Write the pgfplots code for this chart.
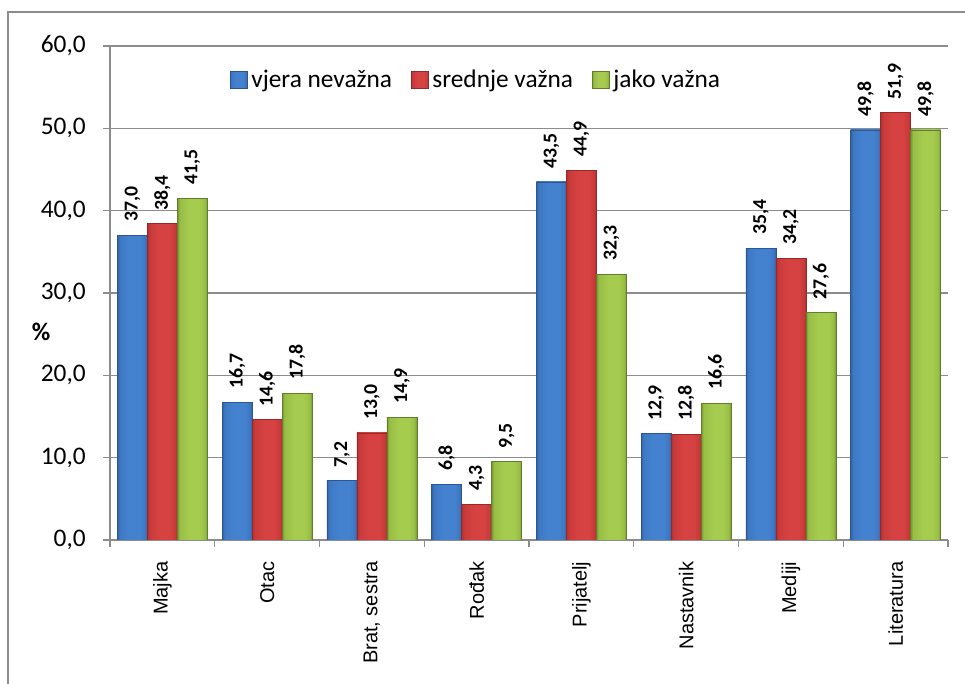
\documentclass[border=0pt]{standalone}
\usepackage{pgfplots}
\pgfplotsset{compat=1.18}
\usepackage{fontspec}
\setmainfont{Carlito}
\newfontfamily\arialfont{Liberation Sans}

\definecolor{bE}{RGB}{52,98,165}
\definecolor{bM}{RGB}{68,130,208}
\definecolor{bN}{RGB}{62,120,195}
\definecolor{bD}{RGB}{45,85,145}
\definecolor{rE}{RGB}{175,48,48}
\definecolor{rM}{RGB}{214,66,66}
\definecolor{rN}{RGB}{200,58,58}
\definecolor{rD}{RGB}{150,40,40}
\definecolor{gE}{RGB}{118,150,52}
\definecolor{gM}{RGB}{165,204,78}
\definecolor{gN}{RGB}{152,190,70}
\definecolor{gD}{RGB}{100,125,42}
\definecolor{gridc}{RGB}{140,140,140}

\pgfdeclarehorizontalshading{blueshade}{100bp}{color(0bp)=(bE); color(25bp)=(bE); color(29bp)=(bN); color(45bp)=(bM); color(62bp)=(bM); color(71bp)=(bN); color(75bp)=(bE); color(100bp)=(bE)}
\pgfdeclarehorizontalshading{redshade}{100bp}{color(0bp)=(rE); color(25bp)=(rE); color(29bp)=(rN); color(45bp)=(rM); color(62bp)=(rM); color(71bp)=(rN); color(75bp)=(rE); color(100bp)=(rE)}
\pgfdeclarehorizontalshading{greenshade}{100bp}{color(0bp)=(gE); color(25bp)=(gE); color(29bp)=(gN); color(45bp)=(gM); color(62bp)=(gM); color(71bp)=(gN); color(75bp)=(gE); color(100bp)=(gE)}

\pgfplotstableread{
x a b c
0 37.0 38.4 41.5
1 16.7 14.6 17.8
2 7.2 13.0 14.9
3 6.8 4.3 9.5
4 43.5 44.9 32.3
5 12.9 12.8 16.6
6 35.4 34.2 27.6
7 49.8 51.9 49.8
}\datatable

\tikzset{vlabel/.style={font=\bfseries\fontsize{14.8}{17}\selectfont, rotate=90, anchor=west, inner xsep=10pt, inner ysep=0pt, black}}
\pgfplotsset{
  barA/.style={ybar, bar width=22.5pt, bar shift=-22.5pt, draw=bD, line width=0.5pt, shading=blueshade,
    every node near coord/.style={xshift=-22.5pt, vlabel}},
  barB/.style={ybar, bar width=22.5pt, bar shift=0pt, draw=rD, line width=0.5pt, shading=redshade,
    every node near coord/.style={vlabel}},
  barC/.style={ybar, bar width=22.5pt, bar shift=22.5pt, draw=gD, line width=0.5pt, shading=greenshade,
    every node near coord/.style={xshift=22.5pt, vlabel}},
}

\begin{document}
\begin{tikzpicture}
\useasboundingbox (0,0) rectangle (723.75pt,513pt);
\draw[gridc, line width=1pt] (6pt,0pt) -- (6pt,504pt) -- (723.75pt,504pt);
\node[font=\bfseries\fontsize{19}{22}\selectfont] at (30.75pt,264pt) {\%};
\begin{axis}[
  at={(82.5pt,108pt)}, anchor=south west,
  scale only axis, width=628.5pt, height=370.5pt,
  xmin=-0.5, xmax=7.5, ymin=0, ymax=60,
  ytick={0,10,...,60},
  xtick={0,...,7},
  xticklabels={Majka,Otac,{Brat, sestra},Rođak,Prijatelj,Nastavnik,Mediji,Literatura},
  minor xtick={-0.5,0.5,...,7.5},
  major x tick style={draw=none},
  tick align=outside,
  major tick length=5pt, minor tick length=5pt,
  tick style={gridc, line width=1pt},
  axis x line*=bottom, axis y line*=left,
  axis line style={gridc, line width=1pt},
  ymajorgrids, grid style={gridc, line width=1pt},
  /pgf/number format/.cd, fixed, fixed zerofill, precision=1, use comma, assume math mode=true,
  /pgfplots/.cd,
  yticklabel style={font=\fontsize{19}{22}\selectfont, inner sep=0pt, xshift=-13pt},
  xticklabel style={font=\arialfont\fontsize{15}{18}\selectfont, rotate=90, anchor=east, inner xsep=11pt, inner ysep=0pt},
  nodes near coords={\pgfmathprintnumber[fixed,fixed zerofill,precision=1,use comma]{\pgfplotspointmeta}},
  legend style={at={(0.437,0.931)}, anchor=center, draw=none, fill=white,
    legend columns=3, font=\fontsize{19}{22}\selectfont,
    /tikz/every odd column/.append style={column sep=1pt},
    /tikz/every even column/.append style={column sep=12pt}},
  legend image code/.code={\path[#1] (0pt,-6pt) rectangle (12.75pt,6.75pt);},
]
\pgfplotsinvokeforeach{0,...,7}{
  \addplot[barA, forget plot, restrict x to domain=#1:#1] table[x=x,y=a]{\datatable};
  \addplot[barB, forget plot, restrict x to domain=#1:#1] table[x=x,y=b]{\datatable};
  \addplot[barC, forget plot, restrict x to domain=#1:#1] table[x=x,y=c]{\datatable};
}
\addlegendimage{draw=bD, line width=0.5pt, shading=blueshade}
\addlegendentry{vjera nevažna}
\addlegendimage{draw=rD, line width=0.5pt, shading=redshade}
\addlegendentry{srednje važna}
\addlegendimage{draw=gD, line width=0.5pt, shading=greenshade}
\addlegendentry{jako važna}
\end{axis}
\end{tikzpicture}
\end{document}
